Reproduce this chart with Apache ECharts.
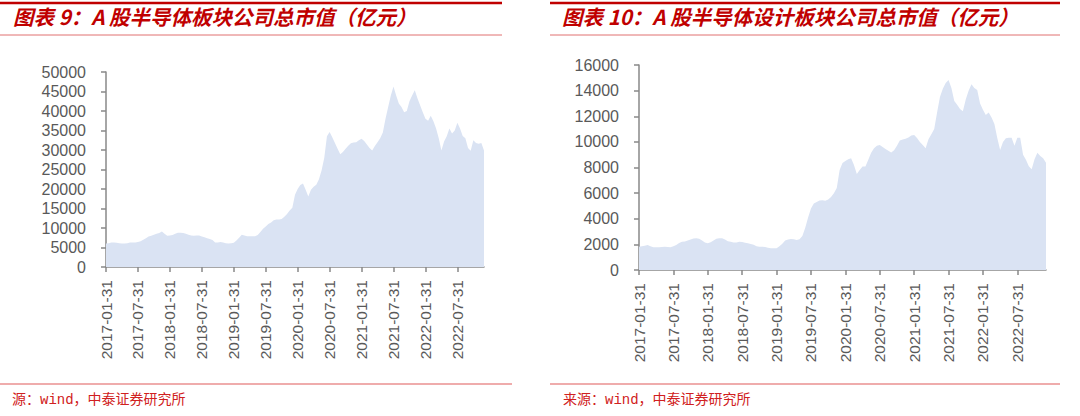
<!DOCTYPE html>
<html><head><meta charset="utf-8">
<script src="https://cdn.jsdelivr.net/npm/echarts@6/dist/echarts.min.js"></script>
<style>html,body{margin:0;padding:0;background:#fff;}#c{width:1080px;height:416px;}</style>
</head><body><div id="c"></div>
<script>
// Categories (half-monthly dates)
const categories = [
"2017-01-31","2017-02-15","2017-02-28","2017-03-15","2017-03-31","2017-04-15","2017-04-30","2017-05-15","2017-05-31","2017-06-15","2017-06-30","2017-07-15","2017-07-31","2017-08-15","2017-08-31","2017-09-15","2017-09-30","2017-10-15","2017-10-31","2017-11-15","2017-11-30","2017-12-15","2017-12-31",
"2018-01-15","2018-01-31","2018-02-15","2018-02-28","2018-03-15","2018-03-31","2018-04-15","2018-04-30","2018-05-15","2018-05-31","2018-06-15","2018-06-30","2018-07-15","2018-07-31","2018-08-15","2018-08-31","2018-09-15","2018-09-30","2018-10-15","2018-10-31","2018-11-15","2018-11-30","2018-12-15","2018-12-31",
"2019-01-15","2019-01-31","2019-02-15","2019-02-28","2019-03-15","2019-03-31","2019-04-15","2019-04-30","2019-05-15","2019-05-31","2019-06-15","2019-06-30","2019-07-15","2019-07-31","2019-08-15","2019-08-31","2019-09-15","2019-09-30","2019-10-15","2019-10-31","2019-11-15","2019-11-30","2019-12-15","2019-12-31",
"2020-01-15","2020-01-31","2020-02-15","2020-02-29","2020-03-15","2020-03-31","2020-04-15","2020-04-30","2020-05-15","2020-05-31","2020-06-15","2020-06-30","2020-07-15","2020-07-31","2020-08-15","2020-08-31","2020-09-15","2020-09-30","2020-10-15","2020-10-31","2020-11-15","2020-11-30","2020-12-15","2020-12-31",
"2021-01-15","2021-01-31","2021-02-15","2021-02-28","2021-03-15","2021-03-31","2021-04-15","2021-04-30","2021-05-15","2021-05-31","2021-06-15","2021-06-30","2021-07-15","2021-07-31","2021-08-15","2021-08-31","2021-09-15","2021-09-30","2021-10-15","2021-10-31","2021-11-15","2021-11-30","2021-12-15","2021-12-31",
"2022-01-15","2022-01-31","2022-02-15","2022-02-28","2022-03-15","2022-03-31","2022-04-15","2022-04-30","2022-05-15","2022-05-31","2022-06-15","2022-06-30","2022-07-15","2022-07-31","2022-08-15","2022-08-31","2022-09-15","2022-09-30","2022-10-15","2022-10-31","2022-11-15","2022-11-30","2022-12-15","2022-12-31"
];
// Tick labels shown on x axes
const tickLabels = ["2017-01-31","2017-07-31","2018-01-31","2018-07-31","2019-01-31","2019-07-31","2020-01-31","2020-07-31","2021-01-31","2021-07-31","2022-01-31","2022-07-31"];

// 图表9: A股半导体板块公司总市值（亿元）
const semiTotal = [
6000,6100,6300,6300,6200,6100,6000,6000,6100,6300,6300,6300,6400,6600,7000,7400,7800,8000,8300,8500,8700,9100,8500,
8000,8100,8200,8500,8800,8800,8700,8500,8300,8100,8000,8100,8100,7800,7600,7400,7200,6900,6300,6300,6400,6300,6100,6000,
6100,6200,6800,7500,8300,8100,7900,7900,7900,7900,8200,9000,9800,10400,11000,11400,12000,12200,12200,12300,12900,13600,14500,15200,
18500,20000,21000,21400,19800,18100,19800,20600,21100,22500,24800,28000,33500,34600,33300,31800,30300,28900,29500,30300,31100,31700,31900,32000,
32500,32900,32300,31400,30500,29900,31000,32000,33000,34500,38000,41000,44000,46300,44000,41900,41000,39700,40000,42500,44000,45300,43300,41500,
39700,38000,37500,38800,37400,35500,33000,29900,32200,33500,35500,34200,35000,37000,35500,33600,33000,30500,29800,32500,31800,31600,31800,29900
];
// 图表10: A股半导体设计板块公司总市值（亿元）
const designTotal = [
1820,1850,1900,1950,1850,1780,1770,1780,1800,1820,1790,1770,1850,1950,2100,2200,2230,2300,2380,2450,2470,2430,2300,
2150,2080,2160,2300,2430,2470,2470,2380,2250,2200,2150,2150,2200,2180,2130,2080,2030,1980,1850,1820,1820,1800,1730,1690,
1690,1700,1850,2050,2300,2390,2420,2400,2350,2400,2650,3300,4100,4800,5200,5300,5420,5450,5400,5500,5700,6000,6400,7800,
8350,8500,8650,8720,8200,7490,7800,8070,8070,8600,9150,9500,9700,9760,9600,9450,9300,9180,9350,9700,10100,10180,10250,10350,
10500,10540,10300,10000,9750,9500,10200,10600,11000,12300,13500,14150,14600,14830,14200,13200,12900,12570,12400,13300,14000,14490,14200,14050,
13000,12500,12100,12300,11900,11400,10300,9370,10000,10280,10330,10330,9700,10330,10330,9000,8600,8100,7860,8640,9160,8900,8720,8380
];
const leftTicks = [0,5000,10000,15000,20000,25000,30000,35000,40000,45000,50000];
const rightTicks = [0,2000,4000,6000,8000,10000,12000,14000,16000];

const titleLeft = "图表 9：A 股半导体板块公司总市值（亿元）";
const titleRight = "图表 10：A 股半导体设计板块公司总市值（亿元）";
const sourceLeft = "源：wind，中泰证券研究所";
const sourceRight = "来源：wind，中泰证券研究所";

const axisGray = '#898989';
const labelGray = '#595959';
const fillBlue = '#dae3f3';
const red = '#c00000';

const showTick = (i) => tickLabels.indexOf(categories[i]) >= 0;

function xAxisCfg(gridIndex){
  return {
    type:'category', gridIndex, data: categories, boundaryGap:false,
    axisLine:{show:true, lineStyle:{color:axisGray, width:1.5}},
    axisTick:{show:true, interval:(i)=>showTick(i), length:5, lineStyle:{color:axisGray, width:1.5}},
    axisLabel:{interval:(i)=>showTick(i), rotate:90, margin:13, fontSize:15.5, color:labelGray, fontFamily:'Liberation Sans, Arial, sans-serif'},
    splitLine:{show:false}
  };
}
function yAxisCfg(gridIndex, ticks){
  return {
    type:'value', gridIndex, min:ticks[0], max:ticks[ticks.length-1], interval:ticks[1]-ticks[0],
    axisLine:{show:true, lineStyle:{color:axisGray, width:1.5}},
    axisTick:{show:true, length:5, lineStyle:{color:axisGray, width:1.5}},
    axisLabel:{margin:20, fontSize:16, color:labelGray, fontFamily:'Liberation Sans, Arial, sans-serif', formatter:(v)=>String(v)},
    splitLine:{show:false}
  };
}

const chart = echarts.init(document.getElementById('c'), null, {renderer:'svg'});
const titleStyle = {color:red, fontSize:20.5, fontWeight:'bold', fontStyle:'italic', fontFamily:'Noto Sans CJK SC, sans-serif'};
const srcStyle = {fill:'#d02020', fontSize:14, fontFamily:'Liberation Mono, Noto Sans CJK SC, monospace'};
chart.setOption({
  animation:false,
  title:[
    {text:titleLeft, left:13, top:6, padding:0, textStyle:titleStyle},
    {text:titleRight, left:562, top:6, padding:0, textStyle:titleStyle}
  ],
  grid:[
    {left:106, top:72, width:378, height:195},
    {left:639, top:65, width:407, height:205}
  ],
  xAxis:[xAxisCfg(0), xAxisCfg(1)],
  yAxis:[yAxisCfg(0, leftTicks), yAxisCfg(1, rightTicks)],
  series:[
    {type:'line', xAxisIndex:0, yAxisIndex:0, data:semiTotal, symbol:'none', lineStyle:{width:0, color:fillBlue}, areaStyle:{color:fillBlue, opacity:1}, z:1},
    {type:'line', xAxisIndex:1, yAxisIndex:1, data:designTotal, symbol:'none', lineStyle:{width:0, color:fillBlue}, areaStyle:{color:fillBlue, opacity:1}, z:1}
  ],
  graphic:[
    {type:'line', shape:{x1:0,y1:3,x2:502,y2:3}, style:{stroke:red, lineWidth:2.5}},
    {type:'line', shape:{x1:0,y1:35,x2:502,y2:35}, style:{stroke:'#e07070', lineWidth:1}},
    {type:'line', shape:{x1:0,y1:384,x2:512,y2:384}, style:{stroke:'#e05a5a', lineWidth:1.2}},
    {type:'text', left:12, top:393, style:Object.assign({text:sourceLeft}, srcStyle)},
    {type:'line', shape:{x1:550,y1:3,x2:1060,y2:3}, style:{stroke:red, lineWidth:2.5}},
    {type:'line', shape:{x1:550,y1:35,x2:1060,y2:35}, style:{stroke:'#e07070', lineWidth:1}},
    {type:'line', shape:{x1:550,y1:384,x2:1060,y2:384}, style:{stroke:'#e05a5a', lineWidth:1.2}},
    {type:'text', left:563, top:393, style:Object.assign({text:sourceRight}, srcStyle)}
  ]
});
</script></body></html>
